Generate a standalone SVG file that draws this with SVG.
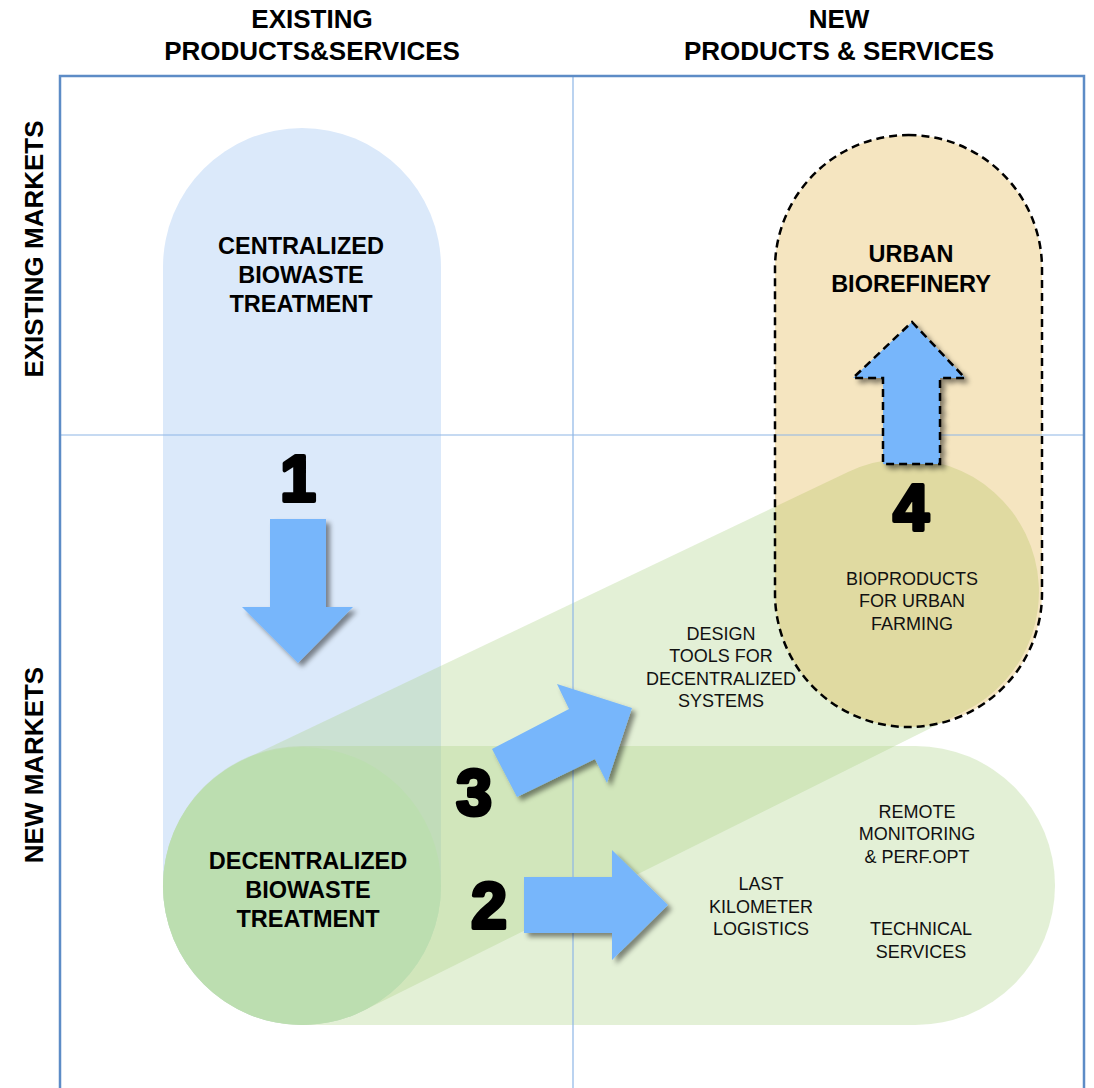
<svg xmlns="http://www.w3.org/2000/svg" width="1094" height="1088" viewBox="0 0 1094 1088">
  <defs>
    <filter id="shadow" x="-30%" y="-30%" width="160%" height="160%">
      <feDropShadow dx="4" dy="4" stdDeviation="2.5" flood-color="#000" flood-opacity="0.45"/>
    </filter>
  </defs>
  <style>
    .hdr { font-family: "Liberation Sans", Arial, sans-serif; font-weight: bold; font-size: 26px; fill: #000; text-anchor: middle; }
    .bold { font-family: "Liberation Sans", Arial, sans-serif; font-weight: bold; font-size: 23.5px; fill: #000; text-anchor: middle; }
    .reg { font-family: "Liberation Sans", Arial, sans-serif; font-size: 18px; fill: #111; text-anchor: middle; }
    .num { font-family: "Liberation Sans", Arial, sans-serif; font-weight: bold; font-size: 64px; fill: #000; stroke: #000; stroke-width: 4; stroke-linejoin: round; text-anchor: middle; }
    .arrow { fill: #77b6fb; filter: url(#shadow); }
    .grid { stroke: #8db6e6; stroke-width: 1.2; fill: none; }
    .frame { stroke: #5d8cc6; stroke-width: 2.5; fill: none; }
  </style>

  <rect width="1094" height="1088" fill="#fff"/>

  <!-- Background shapes -->
  <g id="centralized-shape">
    <rect x="163" y="128" width="278" height="897" rx="139" ry="139" fill="#dbe9fa"/>
  </g>
  <g id="hull-shape">
    <path d="M241,761 L848,472 A133,133 0 0 1 1025.6,533.8 A133,133 0 0 1 964,711.6 L362.8,1011 A139,139 0 0 1 177,946.8 A139,139 0 0 1 241,761 Z" fill="#afd48a" fill-opacity="0.35"/>
  </g>
  <g id="services-shape">
    <rect x="163" y="746" width="892" height="279" rx="139.5" ry="139.5" fill="#afd48a" fill-opacity="0.35"/>
  </g>
  <g id="biorefinery-shape">
    <rect x="775" y="135" width="267" height="592" rx="133.5" ry="133.5" fill="#d89804" fill-opacity="0.25"/>
  </g>
  <g id="decentralized-shape">
    <circle cx="302" cy="886" r="139" fill="#bcdeb0"/>
  </g>

  <!-- Grid -->
  <g id="grid">
    <line class="grid" x1="573" y1="76" x2="573" y2="1088"/>
    <line class="grid" x1="60" y1="435" x2="1084" y2="435"/>
    <path class="frame" d="M60,1090 L60,76 L1084,76 L1084,1090"/>
  </g>

  <!-- dashed outline of biorefinery -->
  <g id="biorefinery-outline">
    <rect x="775" y="135" width="267" height="592" rx="133.5" ry="133.5" fill="none" stroke="#000" stroke-width="2.5" stroke-dasharray="8 5"/>
  </g>

  <!-- Connectors (arrows) -->
  <g id="connectors">
    <polygon class="arrow" points="270,519 326,519 326,607 353,607 298,663 242,607 270,607"/>
    <polygon class="arrow" points="524,877 612,877 612,850 668,905 612,960 612,933 524,933"/>
    <polygon class="arrow" points="492,749 569,709 557,684 632,708 607,783 595,759 517,797"/>
    <polygon class="arrow" points="912,322 965,378 940,378 940,464 883,464 883,378 853,378" stroke="#000" stroke-width="2.5" stroke-dasharray="8 5"/>
  </g>

  <!-- Headers -->
  <g id="headers">
    <text class="hdr" x="312" y="28">EXISTING</text>
    <text class="hdr" x="312" y="60">PRODUCTS&amp;SERVICES</text>
    <text class="hdr" x="839" y="28">NEW</text>
    <text class="hdr" x="839" y="60">PRODUCTS &amp; SERVICES</text>
    <text class="hdr" transform="translate(43,249) rotate(-90)">EXISTING MARKETS</text>
    <text class="hdr" transform="translate(43,765) rotate(-90)">NEW MARKETS</text>
  </g>

  <!-- Nodes -->
  <g id="node-centralized">
    <text class="bold" x="301" y="254">CENTRALIZED</text>
    <text class="bold" x="301" y="283">BIOWASTE</text>
    <text class="bold" x="301" y="312">TREATMENT</text>
  </g>
  <g id="node-decentralized">
    <text class="bold" x="308" y="869">DECENTRALIZED</text>
    <text class="bold" x="308" y="898">BIOWASTE</text>
    <text class="bold" x="308" y="927">TREATMENT</text>
  </g>
  <g id="node-biorefinery">
    <text class="bold" x="911" y="262">URBAN</text>
    <text class="bold" x="911" y="292">BIOREFINERY</text>
  </g>
  <g id="node-bioproducts">
    <text class="reg" x="912" y="585">BIOPRODUCTS</text>
    <text class="reg" x="912" y="607">FOR URBAN</text>
    <text class="reg" x="912" y="630">FARMING</text>
  </g>
  <g id="node-design">
    <text class="reg" x="721" y="640">DESIGN</text>
    <text class="reg" x="721" y="662">TOOLS FOR</text>
    <text class="reg" x="721" y="685">DECENTRALIZED</text>
    <text class="reg" x="721" y="707">SYSTEMS</text>
  </g>
  <g id="node-remote">
    <text class="reg" x="917" y="818">REMOTE</text>
    <text class="reg" x="917" y="840">MONITORING</text>
    <text class="reg" x="917" y="863">&amp; PERF.OPT</text>
  </g>
  <g id="node-logistics">
    <text class="reg" x="761" y="890">LAST</text>
    <text class="reg" x="761" y="913">KILOMETER</text>
    <text class="reg" x="761" y="935">LOGISTICS</text>
  </g>
  <g id="node-technical">
    <text class="reg" x="921" y="935">TECHNICAL</text>
    <text class="reg" x="921" y="958">SERVICES</text>
  </g>

  <!-- Step numbers -->
  <g id="numbers">
    <text class="num" x="298" y="501">1</text>
    <text class="num" x="489" y="928">2</text>
    <text class="num" x="474" y="815">3</text>
    <text class="num" x="911" y="530">4</text>
  </g>
</svg>
